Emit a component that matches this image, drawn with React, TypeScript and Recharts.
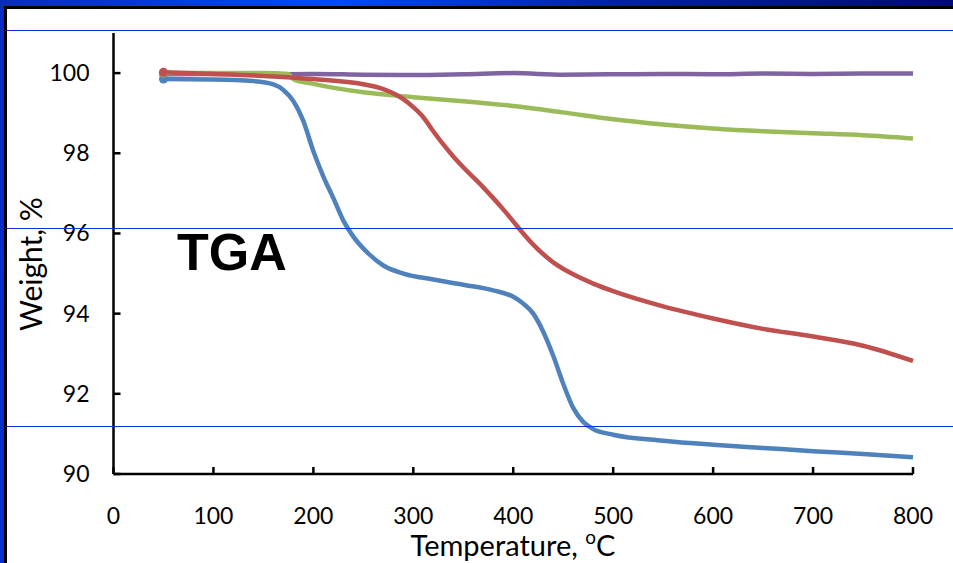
import { LineChart, Line, XAxis, YAxis } from "recharts";

// TGA curves, weight % vs temperature °C
const BLUE_T = [50, 100, 140, 160, 170, 180, 190, 200, 210, 220, 230, 240, 255, 270, 290, 320, 350, 380, 400, 410, 420, 430, 440, 450, 460, 470, 480, 500, 550, 600, 650, 700, 750, 800];
const BLUE_W = [99.85, 99.84, 99.8, 99.72, 99.58, 99.3, 98.8, 98.05, 97.42, 96.88, 96.32, 95.92, 95.5, 95.2, 95.0, 94.85, 94.72, 94.58, 94.42, 94.25, 94.0, 93.55, 92.95, 92.25, 91.65, 91.3, 91.12, 90.98, 90.83, 90.73, 90.65, 90.57, 90.5, 90.42];

const RED_T = [50, 100, 150, 200, 250, 270, 290, 300, 310, 320, 330, 340, 350, 370, 390, 400, 410, 420, 440, 460, 480, 500, 550, 600, 650, 700, 750, 800];
const RED_W = [100.02, 99.98, 99.93, 99.85, 99.72, 99.6, 99.35, 99.15, 98.9, 98.55, 98.22, 97.92, 97.65, 97.15, 96.6, 96.3, 96.0, 95.72, 95.28, 94.98, 94.75, 94.56, 94.18, 93.88, 93.62, 93.43, 93.2, 92.82];

const GREEN_T = [50, 100, 150, 175, 180, 200, 250, 300, 350, 400, 450, 500, 550, 600, 650, 700, 750, 800];
const GREEN_W = [100.0, 100.0, 100.0, 99.98, 99.85, 99.73, 99.52, 99.4, 99.3, 99.18, 99.02, 98.85, 98.72, 98.62, 98.55, 98.5, 98.45, 98.37];

const PURPLE_T = [50, 100, 150, 200, 250, 300, 350, 400, 450, 500, 550, 600, 650, 700, 750, 800];
const PURPLE_W = [99.97, 99.98, 99.97, 99.98, 99.96, 99.95, 99.97, 100.0, 99.96, 99.97, 99.98, 99.97, 99.99, 99.98, 99.99, 99.99];

const X_TICKS = [0, 100, 200, 300, 400, 500, 600, 700, 800];
const Y_TICKS = [90, 92, 94, 96, 98, 100];

const zip = (t: number[], w: number[]) => t.map((v, i) => ({ t: v, w: w[i] }));

const SERIES = [
  { key: "purple", color: "#8064A2", data: zip(PURPLE_T, PURPLE_W) },
  { key: "blue", color: "#4F81BD", data: zip(BLUE_T, BLUE_W) },
  { key: "green", color: "#9BBB59", data: zip(GREEN_T, GREEN_W) },
  { key: "red", color: "#C0504D", data: zip(RED_T, RED_W) },
];

const FONT = "Lato, 'Open Sans', sans-serif";

function YTick(props: any) {
  const { x, y, payload } = props;
  return (
    <g>
      <line x1={x} x2={x + 7} y1={y} y2={y} stroke="#000" strokeWidth={2.5} />
      <text x={x - 24} y={y + 8} textAnchor="end" fontSize={23} fontFamily={FONT} fill="#000">
        {payload.value}
      </text>
    </g>
  );
}

function XTick(props: any) {
  const { x, y, payload } = props;
  return (
    <g>
      <line x1={x} x2={x} y1={y} y2={y - 7} stroke="#000" strokeWidth={2.5} />
      <text x={x} y={y + 50} textAnchor="middle" fontSize={23} fontFamily={FONT} fill="#000">
        {payload.value}
      </text>
    </g>
  );
}

const startDot = (color: string) => (p: any) =>
  p.index === 0 ? (
    <circle key={p.key} cx={p.cx} cy={p.cy} r={4.5} fill={color} stroke="none" />
  ) : (
    <g key={p.key} />
  );

export default function App() {
  return (
    <div style={{ position: "absolute", left: 0, top: 0, width: 953, height: 563, background: "#fff", overflow: "hidden" }}>
      {/* slide frame */}
      <div style={{ position: "absolute", left: 0, top: 0, width: 953, height: 6, background: "linear-gradient(to right, #0a2bc0, #0047ff 35%, #0020a8 65%, #000a72)" }} />
      <div style={{ position: "absolute", left: 0, top: 6, width: 953, height: 3, background: "#000" }} />
      <div style={{ position: "absolute", left: 0, top: 0, width: 4, height: 563, background: "linear-gradient(to bottom, #0a2bc0, #0030d0)" }} />
      <div style={{ position: "absolute", left: 4, top: 6, width: 3, height: 557, background: "#000" }} />

      <div style={{ position: "absolute", left: 0, top: 0 }}>
        <LineChart width={953} height={563} margin={{ top: 33, right: 40, left: 53.5, bottom: 59 }}>
          <XAxis
            dataKey="t"
            type="number"
            domain={[0, 800]}
            ticks={X_TICKS}
            height={30}
            tickSize={0}
            tickMargin={0}
            tickLine={false}
            axisLine={{ stroke: "#000", strokeWidth: 2.5 }}
            tick={<XTick />}
            allowDuplicatedCategory={false}
          />
          <YAxis
            dataKey="w"
            type="number"
            domain={[90, 101]}
            ticks={Y_TICKS}
            width={60}
            tickSize={0}
            tickMargin={0}
            tickLine={false}
            axisLine={{ stroke: "#000", strokeWidth: 2.5 }}
            tick={<YTick />}
            allowDataOverflow
          />
          {SERIES.map((s) => (
            <Line
              key={s.key}
              data={s.data}
              dataKey="w"
              type="monotone"
              stroke={s.color}
              strokeWidth={4.5}
              dot={startDot(s.color)}
              activeDot={false}
              isAnimationActive={false}
            />
          ))}
        </LineChart>
      </div>

      {/* overlay: slide rules, titles, label */}
      <svg width={953} height={563} style={{ position: "absolute", left: 0, top: 0, pointerEvents: "none" }}>
        <line x1={7} x2={953} y1={30.5} y2={30.5} stroke="#0a32d8" strokeWidth={1.2} />
        <line x1={7} x2={953} y1={228.5} y2={228.5} stroke="#0a32d8" strokeWidth={1.2} />
        <line x1={7} x2={953} y1={426.5} y2={426.5} stroke="#0a32d8" strokeWidth={1.2} />
        <text x={177} y={270} fontSize={52} fontWeight="bold" fontFamily="'Liberation Sans', Arial, sans-serif" fill="#000">
          TGA
        </text>
        <text x={513} y={556} textAnchor="middle" fontSize={29} fontFamily={FONT} fill="#000">
          Temperature, <tspan fontSize={19} dy={-12}>o</tspan>
          <tspan dy={12}>C</tspan>
        </text>
        <text
          x={0}
          y={0}
          transform="translate(42 264) rotate(-90)"
          textAnchor="middle"
          fontSize={30}
          fontFamily={FONT}
          fill="#000"
        >
          Weight, %
        </text>
      </svg>
    </div>
  );
}
